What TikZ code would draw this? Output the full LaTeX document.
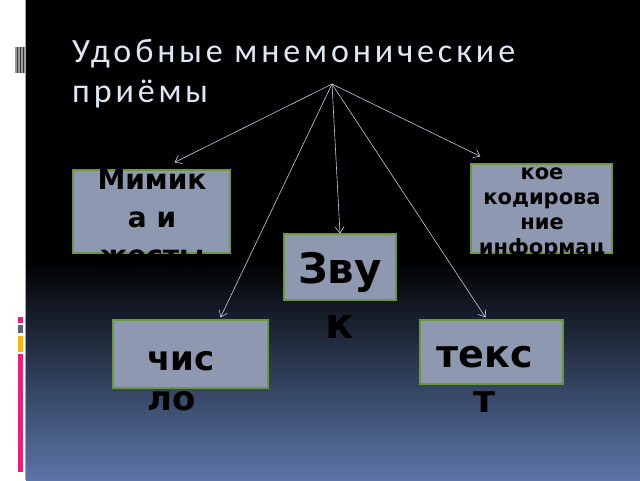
\documentclass[tikz,border=0pt]{standalone}
\usepackage{fontspec}
\setmainfont{DejaVu Sans}
\newfontfamily\titlefont[LetterSpace=11.5]{Carlito}
\usetikzlibrary{arrows.meta}

\definecolor{slideblue}{RGB}{91,117,168}
\definecolor{boxfill}{RGB}{142,153,177}
\definecolor{boxline}{RGB}{106,152,64}
\definecolor{titlecol}{RGB}{220,232,245}
\definecolor{linkcol}{RGB}{200,200,225}
\definecolor{pinkbar}{RGB}{230,30,125}
\definecolor{greybar}{RGB}{90,100,115}
\definecolor{orangebar}{RGB}{250,180,20}

\begin{document}
\begin{tikzpicture}[x=1pt, y=-1pt,
  box/.style={draw=boxline, line width=1.2pt, fill=boxfill, inner sep=0pt},
  word/.style={text=black, align=center, inner sep=0pt},
  link/.style={-{Straight Barb[length=6pt,width=9pt]}, draw=linkcol, line width=0.6pt}]
  \useasboundingbox (0,0) rectangle (640,480);

  % slide background
  \fill[white] (0,0) rectangle (26,480);
  \fill[black] (26,0) rectangle (640,260);
  \shade[top color=black, bottom color=slideblue] (26,260) rectangle (640,480);
  \draw[gray!70, line width=0.8pt] (25.5,0) -- (25.5,480);

  % side marks
  \fill[gray!80] (15,47) rectangle (25,73);
  \foreach \x in {17,20,23} \fill[black!80] (\x,47) rectangle (\x+1,73);
  \fill[pinkbar] (18,317) rectangle (23,323);
  \fill[greybar] (18,325) rectangle (23,333);
  \fill[orangebar] (18,336) rectangle (23,352);
  \fill[pinkbar] (18,354) rectangle (23,472);

  % title (base = last line)
  \node[anchor=base west, inner sep=0pt, text=titlecol, align=left,
    font=\titlefont\fontsize{34}{40}\selectfont] (title) at (72,102)
    {Удобные мнемонические\\приёмы};

  % boxes
  \node[box, minimum width=157pt, minimum height=83pt] (mimika) at (151.5,211.5) {};
  \node[box, minimum width=141pt, minimum height=89pt] (kod) at (541.5,208.5) {};
  \node[box, minimum width=112pt, minimum height=66pt] (zvuk) at (340,267) {};
  \node[box, minimum width=155pt, minimum height=68pt] (chislo) at (190.5,354) {};
  \node[box, minimum width=143pt, minimum height=64pt] (tekst) at (491.5,352) {};

  % box texts (base = last line)
  \node[word, anchor=base, font=\bfseries\fontsize{28}{38}\selectfont] at (152,265)
    {Мимик\\а и\\жесты};
  \node[word, anchor=base, font=\bfseries\fontsize{21}{25}\selectfont] at (542,254)
    {кое\\кодирова\\ние\\информац};
  \node[word, anchor=base, font=\bfseries\fontsize{42}{55}\selectfont] at (340,338)
    {Зву\\к};
  \node[word, anchor=base west, align=left, font=\bfseries\fontsize{34}{40}\selectfont] at (147,410)
    {чис\\ло};
  \node[word, anchor=base, font=\bfseries\fontsize{38}{45}\selectfont] at (485,412)
    {текс\\т};

  % links
  \coordinate (hub) at (332,84);
  \draw[link] (hub) -- ([shift={(23,-7)}]mimika.north);
  \draw[link] (hub) -- ([shift={(10,-7)}]kod.north west);
  \draw[link] (hub) -- (zvuk.north);
  \draw[link] (hub) -- ([shift={(30,-2)}]chislo.north);
  \draw[link] (hub) -- ([shift={(-6,-2)}]tekst.north);
\end{tikzpicture}
\end{document}
